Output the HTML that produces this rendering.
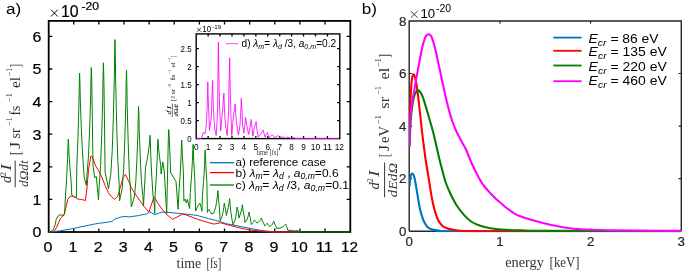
<!DOCTYPE html>
<html><head><meta charset="utf-8"><style>
html,body{margin:0;padding:0;background:#fff;overflow:hidden}
svg{display:block}
text{filter:grayscale(1)}
.s text{stroke:#000;stroke-width:0.22px}
.s2 text{stroke:#262626;stroke-width:0.2px}
</style></head><body>
<svg width="685" height="271" viewBox="0 0 685 271">
<rect width="685" height="271" fill="#fff"/>
<defs><clipPath id="ca"><rect x="48.6" y="20.6" width="301.6" height="212.4"/></clipPath><clipPath id="ci"><rect x="196.2" y="34" width="143.2" height="105.4"/></clipPath><clipPath id="cb"><rect x="409.2" y="15" width="272.2" height="217.2"/></clipPath></defs>
<text x="6.0" y="13.6" font-size="15.5" textLength="15.2" lengthAdjust="spacingAndGlyphs" font-family="'Liberation Sans', sans-serif">a)</text>
<path d="M51.00,9.70L57.80,16.50M57.80,9.70L51.00,16.50" stroke="#000" stroke-width="0.95" fill="none"/>
<g fill="#000" class="s">
<text x="61.0" y="17.2" font-size="15.6" textLength="17.6" lengthAdjust="spacingAndGlyphs" font-family="'Liberation Sans', sans-serif">10</text>
<text x="81.4" y="9.8" font-size="11.2" textLength="17.6" lengthAdjust="spacingAndGlyphs" font-family="'Liberation Sans', sans-serif">-20</text>
<text x="41.4" y="237.30" font-size="15.2" text-anchor="end" textLength="8.9" lengthAdjust="spacingAndGlyphs" font-family="'Liberation Sans', sans-serif">0</text>
<text x="41.4" y="204.70" font-size="15.2" text-anchor="end" textLength="8.9" lengthAdjust="spacingAndGlyphs" font-family="'Liberation Sans', sans-serif">1</text>
<text x="41.4" y="172.10" font-size="15.2" text-anchor="end" textLength="8.9" lengthAdjust="spacingAndGlyphs" font-family="'Liberation Sans', sans-serif">2</text>
<text x="41.4" y="139.50" font-size="15.2" text-anchor="end" textLength="8.9" lengthAdjust="spacingAndGlyphs" font-family="'Liberation Sans', sans-serif">3</text>
<text x="41.4" y="106.90" font-size="15.2" text-anchor="end" textLength="8.9" lengthAdjust="spacingAndGlyphs" font-family="'Liberation Sans', sans-serif">4</text>
<text x="41.4" y="74.30" font-size="15.2" text-anchor="end" textLength="8.9" lengthAdjust="spacingAndGlyphs" font-family="'Liberation Sans', sans-serif">5</text>
<text x="41.4" y="41.70" font-size="15.2" text-anchor="end" textLength="8.9" lengthAdjust="spacingAndGlyphs" font-family="'Liberation Sans', sans-serif">6</text>
<text x="47.90" y="252.1" font-size="15.2" text-anchor="middle" textLength="8.9" lengthAdjust="spacingAndGlyphs" font-family="'Liberation Sans', sans-serif">0</text>
<text x="73.03" y="252.1" font-size="15.2" text-anchor="middle" textLength="8.9" lengthAdjust="spacingAndGlyphs" font-family="'Liberation Sans', sans-serif">1</text>
<text x="98.16" y="252.1" font-size="15.2" text-anchor="middle" textLength="8.9" lengthAdjust="spacingAndGlyphs" font-family="'Liberation Sans', sans-serif">2</text>
<text x="123.29" y="252.1" font-size="15.2" text-anchor="middle" textLength="8.9" lengthAdjust="spacingAndGlyphs" font-family="'Liberation Sans', sans-serif">3</text>
<text x="148.42" y="252.1" font-size="15.2" text-anchor="middle" textLength="8.9" lengthAdjust="spacingAndGlyphs" font-family="'Liberation Sans', sans-serif">4</text>
<text x="173.55" y="252.1" font-size="15.2" text-anchor="middle" textLength="8.9" lengthAdjust="spacingAndGlyphs" font-family="'Liberation Sans', sans-serif">5</text>
<text x="198.68" y="252.1" font-size="15.2" text-anchor="middle" textLength="8.9" lengthAdjust="spacingAndGlyphs" font-family="'Liberation Sans', sans-serif">6</text>
<text x="223.81" y="252.1" font-size="15.2" text-anchor="middle" textLength="8.9" lengthAdjust="spacingAndGlyphs" font-family="'Liberation Sans', sans-serif">7</text>
<text x="248.94" y="252.1" font-size="15.2" text-anchor="middle" textLength="8.9" lengthAdjust="spacingAndGlyphs" font-family="'Liberation Sans', sans-serif">8</text>
<text x="274.07" y="252.1" font-size="15.2" text-anchor="middle" textLength="8.9" lengthAdjust="spacingAndGlyphs" font-family="'Liberation Sans', sans-serif">9</text>
<text x="299.20" y="252.1" font-size="15.2" text-anchor="middle" textLength="17.0" lengthAdjust="spacingAndGlyphs" font-family="'Liberation Sans', sans-serif">10</text>
<text x="324.33" y="252.1" font-size="15.2" text-anchor="middle" textLength="17.0" lengthAdjust="spacingAndGlyphs" font-family="'Liberation Sans', sans-serif">11</text>
<text x="349.46" y="252.1" font-size="15.2" text-anchor="middle" textLength="17.0" lengthAdjust="spacingAndGlyphs" font-family="'Liberation Sans', sans-serif">12</text>
</g>
<rect x="48.7" y="20.9" width="301.60" height="211.10" fill="none" stroke="#000" stroke-width="1.8"/>
<path d="M73.73,232.00v-3.6M73.73,20.90v3.6M98.86,232.00v-3.6M98.86,20.90v3.6M123.99,232.00v-3.6M123.99,20.90v3.6M149.12,232.00v-3.6M149.12,20.90v3.6M174.25,232.00v-3.6M174.25,20.90v3.6M199.38,232.00v-3.6M199.38,20.90v3.6M224.51,232.00v-3.6M224.51,20.90v3.6M249.64,232.00v-3.6M249.64,20.90v3.6M274.77,232.00v-3.6M274.77,20.90v3.6M299.90,232.00v-3.6M299.90,20.90v3.6M325.03,232.00v-3.6M325.03,20.90v3.6M48.70,199.40h3.6M350.30,199.40h-3.6M48.70,166.80h3.6M350.30,166.80h-3.6M48.70,134.20h3.6M350.30,134.20h-3.6M48.70,101.60h3.6M350.30,101.60h-3.6M48.70,69.00h3.6M350.30,69.00h-3.6M48.70,36.40h3.6M350.30,36.40h-3.6" stroke="#000" stroke-width="1.3" fill="none"/>
<g clip-path="url(#ca)" fill="none" stroke-width="1.0" stroke-linejoin="round">
<polyline points="48.60,232.10 59.70,230.90 71.40,228.90 83.00,226.40 94.70,224.00 100.60,223.10 105.00,222.50 108.50,222.00 112.00,221.50 115.00,218.90 118.00,218.00 122.50,216.60 126.00,216.60 130.00,216.90 134.00,216.20 138.00,215.70 142.00,214.80 146.50,213.90 149.80,212.00 152.00,213.00 154.80,214.60 157.00,213.90 160.00,212.70 163.00,212.00 166.00,212.20 170.00,212.50 176.00,213.10 182.60,213.80 190.00,214.50 197.40,215.50 208.50,218.60 215.80,220.40 226.90,223.80 238.00,226.00 250.00,228.40 259.80,230.20 272.70,231.80 280.00,232.00 300.00,232.00" stroke="#0072bd"/>
<polyline points="48.60,232.00 52.50,231.80 55.00,230.00 57.30,226.00 59.10,221.40 60.80,217.80 62.60,216.50 64.40,213.50 66.00,207.00 67.80,199.50 70.50,196.00 74.00,196.50 77.50,199.00 80.80,199.30 83.50,200.00 85.30,200.50 86.80,190.00 88.50,170.00 90.80,156.00 92.50,157.00 95.20,165.00 98.50,170.50 101.80,177.00 105.10,185.50 108.50,193.00 111.80,197.00 114.90,199.40 117.60,196.60 120.40,187.00 123.10,177.50 125.50,174.50 128.70,181.40 131.40,188.00 135.30,194.00 140.00,200.80 143.80,206.20 148.80,212.00 151.30,205.00 153.80,197.20 156.00,200.00 158.20,203.80 162.00,209.00 167.10,214.90 172.60,219.30 178.00,216.50 183.00,213.80 190.00,216.40 197.40,219.20 204.80,221.60 214.00,224.10 220.50,222.80 230.60,225.60 241.70,228.40 250.00,229.90 260.00,231.00 269.00,231.80 275.00,232.00 300.00,232.00" stroke="#ff0000"/>
<polyline points="48.60,232.00 50.30,231.80 53.30,229.50 55.00,225.00 56.20,219.60 57.90,216.10 59.70,214.90 62.00,214.90 63.20,216.10 64.60,213.80 65.50,195.10 66.60,178.64 67.65,157.70 68.00,144.98 68.30,139.00 68.60,143.48 68.95,153.00 70.00,168.68 71.10,181.00 71.80,195.00 74.20,196.90 76.40,197.60 76.80,166.47 77.90,139.09 78.95,104.22 79.30,83.06 79.60,73.10 79.90,81.37 80.25,98.95 81.30,127.90 82.40,150.65 84.10,176.50 86.30,185.40 87.10,173.61 88.50,155.93 89.60,129.99 90.65,96.97 91.00,76.93 91.30,67.50 91.60,75.34 91.95,92.00 93.00,165.50 94.70,177.70 96.30,176.50 98.50,199.80 99.20,186.10 100.60,165.55 101.70,135.41 102.75,97.05 103.10,73.76 103.40,62.80 103.70,71.54 104.05,90.10 105.10,172.00 108.50,188.70 110.80,173.79 112.20,151.42 113.30,118.62 114.35,76.88 114.70,51.53 115.00,39.60 115.30,52.50 115.65,79.90 116.70,125.04 117.80,160.50 119.20,184.68 119.60,200.80 122.30,187.75 123.70,168.18 124.80,139.47 125.85,102.93 126.20,80.74 126.50,70.30 126.80,81.24 127.15,104.48 128.20,142.75 129.30,172.82 130.70,193.33 131.30,207.00 134.40,196.95 135.80,181.88 136.90,159.76 137.95,131.62 138.30,114.54 138.60,106.50 138.90,114.42 139.25,131.25 140.30,158.97 141.40,180.75 142.80,195.60 143.50,205.50 145.60,166.80 147.30,158.93 148.40,152.00 149.45,143.18 149.80,137.82 150.10,135.30 150.40,141.56 150.75,154.85 151.80,176.75 152.90,193.95 154.30,205.68 154.70,213.50 155.10,194.93 156.20,178.58 157.25,157.77 157.60,145.14 157.90,139.20 158.20,141.98 158.55,147.90 159.60,157.64 160.70,165.30 161.10,174.00 162.80,162.00 164.30,171.60 166.70,213.50 168.05,150.57 168.40,136.31 168.70,129.60 169.00,133.06 169.35,140.40 170.70,172.80 176.00,181.50 178.10,209.30 178.90,191.98 180.00,176.73 181.05,157.32 181.40,145.54 181.70,140.00 182.00,144.88 182.35,155.25 183.40,172.33 183.90,201.00 185.30,199.00 186.30,203.00 187.40,199.50 189.60,208.50 190.30,192.47 191.40,178.37 192.45,160.43 192.80,149.53 193.10,144.40 193.40,149.73 193.75,161.05 194.80,179.70 195.60,211.00 197.70,206.50 198.44,204.85 199.28,203.88 199.56,203.28 199.80,203.00 200.04,203.66 200.32,205.07 201.16,207.40 201.90,211.30 202.40,195.98 203.50,182.49 204.55,165.32 204.90,154.90 205.20,150.00 205.50,154.99 205.85,165.60 206.90,183.07 207.40,212.40 207.81,210.94 208.54,210.08 208.79,209.55 209.00,209.30 209.21,209.68 209.46,210.48 210.19,211.79 210.96,212.82 211.50,214.00 214.00,212.80 214.54,210.58 215.66,207.25 216.54,202.37 217.38,196.15 217.66,192.38 217.90,190.60 218.14,193.02 218.42,198.15 219.26,206.61 220.20,220.80 220.94,219.03 222.06,216.38 222.94,212.48 223.78,207.53 224.06,204.52 224.30,203.10 224.54,204.09 224.82,206.20 225.66,209.67 226.40,215.50 227.36,211.28 228.24,207.56 229.08,202.82 229.36,199.95 229.60,198.60 229.84,200.73 230.12,205.25 230.96,212.70 231.84,218.55 233.20,225.20 233.74,223.38 234.86,220.65 235.74,216.65 236.58,211.55 236.86,208.46 237.10,207.00 237.34,207.89 237.62,209.78 238.46,212.88 238.80,218.10 240.16,214.78 241.04,211.85 241.88,208.12 242.16,205.86 242.40,204.80 242.64,206.22 242.92,209.25 243.76,214.23 244.64,218.15 245.00,222.60 245.74,221.54 246.86,219.95 247.74,217.62 248.58,214.65 248.86,212.85 249.10,212.00 249.34,213.01 249.62,215.15 250.46,218.68 251.30,224.60 252.36,223.43 253.24,222.39 254.08,221.07 254.36,220.28 254.60,219.90 254.84,220.16 255.12,220.72 255.96,221.65 257.00,223.20 257.62,222.67 258.88,221.88 259.87,220.71 260.81,219.22 261.13,218.32 261.40,217.90 261.67,218.54 261.98,219.90 262.93,222.14 263.92,223.90 264.80,225.90 265.62,225.18 266.28,224.54 266.91,223.72 267.12,223.23 267.30,223.00 267.48,223.29 267.69,223.90 268.32,224.91 268.98,225.70 270.00,226.60 270.44,226.06 271.56,225.25 272.44,224.06 273.28,222.55 273.56,221.63 273.80,221.20 274.04,221.78 274.32,223.00 275.16,225.02 276.04,226.60 276.50,228.40 280.00,228.20 283.00,226.80 283.84,226.08 284.61,225.44 285.35,224.62 285.59,224.13 285.80,223.90 286.01,224.44 286.25,225.57 286.99,227.45 288.00,230.60 291.00,230.20 294.00,231.00 297.00,230.60 300.00,231.60 303.00,232.00 350.20,232.00" stroke="#008000"/>
</g>
<g stroke-width="1.3">
<line x1="209.9" y1="162.7" x2="234" y2="162.7" stroke="#0072bd"/>
<line x1="209.9" y1="172.6" x2="234" y2="172.6" stroke="#ff0000"/>
<line x1="209.9" y1="185.0" x2="234" y2="185.0" stroke="#008000"/>
</g>
<g fill="#000">
<text x="235.6" y="166.1" font-size="11.4" textLength="90.5" lengthAdjust="spacingAndGlyphs" font-family="'Liberation Sans', sans-serif">a) reference case</text>
<text x="235.6" y="176.7" font-size="11.4" font-family="'Liberation Sans', sans-serif" textLength="103" lengthAdjust="spacingAndGlyphs">b) <tspan font-style="italic">λ</tspan><tspan font-size="8.2" font-style="italic" dy="2">m</tspan><tspan dy="-2">= </tspan><tspan font-style="italic">λ</tspan><tspan font-size="8.2" font-style="italic" dy="2">d</tspan><tspan dy="-2"> , </tspan><tspan font-style="italic">a</tspan><tspan font-size="8.2" font-style="italic" dy="2">0,m</tspan><tspan dy="-2">=0.6</tspan></text>
<text x="235.6" y="188.7" font-size="11.4" font-family="'Liberation Sans', sans-serif" textLength="113.5" lengthAdjust="spacingAndGlyphs">c) <tspan font-style="italic">λ</tspan><tspan font-size="8.2" font-style="italic" dy="2">m</tspan><tspan dy="-2">= </tspan><tspan font-style="italic">λ</tspan><tspan font-size="8.2" font-style="italic" dy="2">d</tspan><tspan dy="-2"> /3, </tspan><tspan font-style="italic">a</tspan><tspan font-size="8.2" font-style="italic" dy="2">0,m</tspan><tspan dy="-2">=0.1</tspan></text>
</g>
<rect x="196.2" y="33.9" width="143.60" height="104.70" fill="#fff"/>
<rect x="196.2" y="33.9" width="143.60" height="104.70" fill="none" stroke="#000" stroke-width="1.4"/>
<path d="M208.13,138.60v-2.6M208.13,33.90v2.6M220.06,138.60v-2.6M220.06,33.90v2.6M231.99,138.60v-2.6M231.99,33.90v2.6M243.92,138.60v-2.6M243.92,33.90v2.6M255.85,138.60v-2.6M255.85,33.90v2.6M267.78,138.60v-2.6M267.78,33.90v2.6M279.71,138.60v-2.6M279.71,33.90v2.6M291.64,138.60v-2.6M291.64,33.90v2.6M303.57,138.60v-2.6M303.57,33.90v2.6M315.50,138.60v-2.6M315.50,33.90v2.6M327.43,138.60v-2.6M327.43,33.90v2.6M196.20,120.60h2.6M339.80,120.60h-2.6M196.20,102.60h2.6M339.80,102.60h-2.6M196.20,84.60h2.6M339.80,84.60h-2.6M196.20,66.60h2.6M339.80,66.60h-2.6M196.20,48.60h2.6M339.80,48.60h-2.6" stroke="#000" stroke-width="1.3" fill="none"/>
<g clip-path="url(#ci)" fill="none" stroke-width="1.0" stroke-linejoin="round">
<polyline points="196.20,138.60 201.50,138.60 203.20,132.40 204.90,133.80 205.91,128.62 206.54,120.85 207.04,109.45 207.51,94.95 207.67,86.14 207.80,82.00 207.94,85.88 208.09,94.12 208.56,107.70 209.06,118.38 209.40,130.50 211.40,116.60 211.84,99.54 212.31,89.38 212.47,83.20 212.60,80.30 212.73,84.12 212.89,92.22 213.36,105.58 213.86,116.08 214.60,128.00 216.20,135.50 217.60,112.00 218.11,59.50 218.27,47.60 218.40,42.00 218.53,49.12 218.69,64.25 219.16,89.17 219.66,108.75 220.29,122.10 220.70,131.00 222.60,109.00 222.92,105.00 223.31,101.48 223.67,97.00 223.80,94.28 223.90,93.00 224.00,95.56 224.13,101.00 224.50,109.96 224.88,117.00 225.50,125.00 227.20,135.50 228.60,112.00 228.94,86.53 229.41,71.35 229.56,62.14 229.70,57.80 229.83,64.02 229.99,77.22 230.46,98.98 230.96,116.08 231.80,135.50 233.50,114.90 233.98,112.18 234.42,109.78 234.84,106.72 234.98,104.87 235.10,104.00 235.22,105.40 235.36,108.38 235.78,113.28 236.30,121.50 238.40,134.80 239.20,131.15 239.90,125.68 240.45,117.65 240.98,107.42 241.15,101.22 241.30,98.30 241.45,100.43 241.62,104.95 242.15,112.40 242.60,124.90 243.90,133.10 244.75,125.72 245.28,121.33 245.45,118.66 245.60,117.40 245.75,118.00 245.92,119.28 246.70,124.90 248.60,134.50 249.42,130.72 250.08,127.40 250.71,123.18 250.92,120.61 251.10,119.40 251.28,120.74 251.49,123.60 252.12,128.30 252.80,136.20 254.40,127.70 255.25,124.83 255.78,123.12 255.95,122.09 256.10,121.60 256.25,122.83 256.43,125.45 256.95,129.76 257.50,133.15 258.30,137.00 261.10,133.80 261.42,132.83 262.08,131.97 262.71,130.88 262.92,130.21 263.10,129.90 263.28,130.48 263.49,131.70 264.12,133.72 265.00,137.10 266.01,135.03 266.75,133.80 266.99,133.05 267.20,132.70 267.41,133.09 267.65,133.92 268.39,135.30 268.80,137.60 270.60,136.20 271.51,135.59 272.25,135.22 272.49,135.00 272.70,134.90 272.91,135.12 273.15,135.60 273.89,136.38 274.40,137.70 276.20,136.80 277.01,136.19 277.75,135.82 277.99,135.60 278.20,135.50 278.41,135.69 278.65,136.10 279.39,136.77 279.90,137.90 280.96,137.57 281.84,137.29 282.68,136.93 282.96,136.70 283.20,136.60 283.44,136.73 283.72,137.00 284.56,137.45 285.40,138.20 286.34,137.54 287.18,137.15 287.46,136.91 287.70,136.80 287.94,136.92 288.22,137.18 289.06,137.59 290.00,138.30 293.00,137.80 296.00,138.40 300.00,138.60 339.40,138.60" stroke="#ff00ff" stroke-width="0.85"/>
</g>
<g fill="#000">
<text x="191.6" y="141.60" font-size="8.2" text-anchor="end" textLength="4.4" lengthAdjust="spacingAndGlyphs" font-family="'Liberation Sans', sans-serif">0</text>
<text x="191.6" y="123.60" font-size="8.2" text-anchor="end" textLength="11" lengthAdjust="spacingAndGlyphs" font-family="'Liberation Sans', sans-serif">0.5</text>
<text x="191.6" y="105.60" font-size="8.2" text-anchor="end" textLength="4.4" lengthAdjust="spacingAndGlyphs" font-family="'Liberation Sans', sans-serif">1</text>
<text x="191.6" y="87.60" font-size="8.2" text-anchor="end" textLength="11" lengthAdjust="spacingAndGlyphs" font-family="'Liberation Sans', sans-serif">1.5</text>
<text x="191.6" y="69.60" font-size="8.2" text-anchor="end" textLength="4.4" lengthAdjust="spacingAndGlyphs" font-family="'Liberation Sans', sans-serif">2</text>
<text x="191.6" y="51.60" font-size="8.2" text-anchor="end" textLength="11" lengthAdjust="spacingAndGlyphs" font-family="'Liberation Sans', sans-serif">2.5</text>
<text x="196.20" y="149.6" font-size="8.2" text-anchor="middle" textLength="4.6" lengthAdjust="spacingAndGlyphs" font-family="'Liberation Sans', sans-serif">0</text>
<text x="208.13" y="149.6" font-size="8.2" text-anchor="middle" textLength="4.6" lengthAdjust="spacingAndGlyphs" font-family="'Liberation Sans', sans-serif">1</text>
<text x="220.06" y="149.6" font-size="8.2" text-anchor="middle" textLength="4.6" lengthAdjust="spacingAndGlyphs" font-family="'Liberation Sans', sans-serif">2</text>
<text x="231.99" y="149.6" font-size="8.2" text-anchor="middle" textLength="4.6" lengthAdjust="spacingAndGlyphs" font-family="'Liberation Sans', sans-serif">3</text>
<text x="243.92" y="149.6" font-size="8.2" text-anchor="middle" textLength="4.6" lengthAdjust="spacingAndGlyphs" font-family="'Liberation Sans', sans-serif">4</text>
<text x="255.85" y="149.6" font-size="8.2" text-anchor="middle" textLength="4.6" lengthAdjust="spacingAndGlyphs" font-family="'Liberation Sans', sans-serif">5</text>
<text x="267.78" y="149.6" font-size="8.2" text-anchor="middle" textLength="4.6" lengthAdjust="spacingAndGlyphs" font-family="'Liberation Sans', sans-serif">6</text>
<text x="279.71" y="149.6" font-size="8.2" text-anchor="middle" textLength="4.6" lengthAdjust="spacingAndGlyphs" font-family="'Liberation Sans', sans-serif">7</text>
<text x="291.64" y="149.6" font-size="8.2" text-anchor="middle" textLength="4.6" lengthAdjust="spacingAndGlyphs" font-family="'Liberation Sans', sans-serif">8</text>
<text x="303.57" y="149.6" font-size="8.2" text-anchor="middle" textLength="4.6" lengthAdjust="spacingAndGlyphs" font-family="'Liberation Sans', sans-serif">9</text>
<text x="315.50" y="149.6" font-size="8.2" text-anchor="middle" textLength="9.4" lengthAdjust="spacingAndGlyphs" font-family="'Liberation Sans', sans-serif">10</text>
<text x="327.43" y="149.6" font-size="8.2" text-anchor="middle" textLength="9.4" lengthAdjust="spacingAndGlyphs" font-family="'Liberation Sans', sans-serif">11</text>
<text x="339.36" y="149.6" font-size="8.2" text-anchor="middle" textLength="9.4" lengthAdjust="spacingAndGlyphs" font-family="'Liberation Sans', sans-serif">12</text>
<path d="M197.00,27.80L201.00,31.80M201.00,27.80L197.00,31.80" stroke="#000" stroke-width="0.7" fill="none"/>
<text x="202.2" y="32.3" font-size="8.4" textLength="8.9" lengthAdjust="spacingAndGlyphs" font-family="'Liberation Sans', sans-serif">10</text>
<text x="212.2" y="29.0" font-size="6.2" textLength="8.9" lengthAdjust="spacingAndGlyphs" font-family="'Liberation Sans', sans-serif">-19</text>
</g>
<line x1="226" y1="43.7" x2="238" y2="43.7" stroke="#ff00ff" stroke-width="0.7"/>
<text x="241.6" y="47.1" font-size="10" font-family="'Liberation Sans', sans-serif" textLength="94.5" lengthAdjust="spacingAndGlyphs">d) <tspan font-style="italic">λ</tspan><tspan font-size="7" font-style="italic" dy="1.6">m</tspan><tspan dy="-1.6">= </tspan><tspan font-style="italic">λ</tspan><tspan font-size="7" font-style="italic" dy="1.6">d</tspan><tspan dy="-1.6"> /3, </tspan><tspan font-style="italic">a</tspan><tspan font-size="7" font-style="italic" dy="1.6">0,m</tspan><tspan dy="-1.6">=0.2</tspan></text>
<g fill="#333"><text x="256.5" y="155.2" font-size="7.3" textLength="22.0" lengthAdjust="spacingAndGlyphs" font-family="'Liberation Serif', serif">time [fs]</text></g>
<g transform="translate(174.5,101.5) rotate(-90)" font-family="'Liberation Serif', serif">
<text x="0.3" y="0" font-size="6.5" textLength="5.20" lengthAdjust="spacingAndGlyphs">[J</text>
<text x="7.5" y="0" font-size="6.5" textLength="5.00" lengthAdjust="spacingAndGlyphs">sr</text>
<text x="13.5" y="-3.8" font-size="4.5" textLength="4.00" lengthAdjust="spacingAndGlyphs">−1</text>
<text x="21.3" y="0" font-size="6.5" textLength="5.40" lengthAdjust="spacingAndGlyphs">fs</text>
<text x="28.0" y="-3.8" font-size="4.5" textLength="3.50" lengthAdjust="spacingAndGlyphs">−1</text>
<text x="34.5" y="0" font-size="6.5" textLength="4.60" lengthAdjust="spacingAndGlyphs">el</text>
<text x="40.0" y="-3.8" font-size="4.5" textLength="3.20" lengthAdjust="spacingAndGlyphs">−1</text>
<text x="44.3" y="0" font-size="6.5" textLength="1.30" lengthAdjust="spacingAndGlyphs">]</text>
</g>
<line x1="172.3" y1="103.6" x2="172.3" y2="116.9" stroke="#000" stroke-width="0.6"/>
<g transform="translate(172.2,110.2) rotate(-90)" font-family="'Liberation Serif', serif">
<text x="-4.4" y="-1.4" font-size="6.2" textLength="3.40" lengthAdjust="spacingAndGlyphs" font-style="italic">d</text>
<text x="-1.2" y="-4.4" font-size="4" textLength="1.80" lengthAdjust="spacingAndGlyphs">2</text>
<text x="1.0" y="-1.4" font-size="6.2" textLength="3.20" lengthAdjust="spacingAndGlyphs" font-style="italic">I</text>
<text x="-6.3" y="5.9" font-size="6.2" textLength="12.60" lengthAdjust="spacingAndGlyphs" font-style="italic">dΩdt</text>
</g>
<g fill="#333">
<g transform="translate(19.6,155.5) rotate(-90)" font-family="'Liberation Serif', serif">
<text x="0.3" y="0" font-size="14" textLength="4.30" lengthAdjust="spacingAndGlyphs">[</text>
<text x="6.6" y="0" font-size="14" textLength="7.30" lengthAdjust="spacingAndGlyphs">J</text>
<text x="17.0" y="0" font-size="14" textLength="10.20" lengthAdjust="spacingAndGlyphs">sr</text>
<text x="29.8" y="-7.2" font-size="9" textLength="8.20" lengthAdjust="spacingAndGlyphs">−1</text>
<text x="40.0" y="0" font-size="14" textLength="10.00" lengthAdjust="spacingAndGlyphs">fs</text>
<text x="53.6" y="-7.2" font-size="9" textLength="8.60" lengthAdjust="spacingAndGlyphs">−1</text>
<text x="67.4" y="0" font-size="14" textLength="11.20" lengthAdjust="spacingAndGlyphs">el</text>
<text x="79.4" y="-7.2" font-size="9" textLength="8.00" lengthAdjust="spacingAndGlyphs">−1</text>
<text x="87.8" y="0" font-size="14" textLength="4.00" lengthAdjust="spacingAndGlyphs">]</text>
</g>
<line x1="15.2" y1="160.6" x2="15.2" y2="187.3" stroke="#000" stroke-width="0.8"/>
<g transform="translate(15.2,174.0) rotate(-90)" font-family="'Liberation Serif', serif">
<text x="-8.9" y="-4.0" font-size="13.6" textLength="7.10" lengthAdjust="spacingAndGlyphs" font-style="italic">d</text>
<text x="-2.0" y="-9.4" font-size="7.5" textLength="4.00" lengthAdjust="spacingAndGlyphs">2</text>
<text x="3.4" y="-4.0" font-size="14" textLength="6.20" lengthAdjust="spacingAndGlyphs" font-style="italic">I</text>
<text x="-13.0" y="12.6" font-size="13.5" textLength="26.60" lengthAdjust="spacingAndGlyphs" font-style="italic">dΩdt</text>
</g>
</g>
<g fill="#333"><text x="176.6" y="267.6" font-size="14" textLength="24.6" lengthAdjust="spacingAndGlyphs" font-family="'Liberation Serif', serif">time</text><text x="206.4" y="267.6" font-size="14" textLength="14.8" lengthAdjust="spacingAndGlyphs" font-family="'Liberation Serif', serif">[fs]</text></g>
<g fill="#000">
<text x="361.8" y="13.6" font-size="15.5" textLength="15.2" lengthAdjust="spacingAndGlyphs" font-family="'Liberation Sans', sans-serif">b)</text>
<path d="M410.90,11.10L417.50,17.70M417.50,11.10L410.90,17.70" stroke="#262626" stroke-width="0.9" fill="none"/>
<text x="420.4" y="17.7" font-size="13.4" textLength="14.6" lengthAdjust="spacingAndGlyphs" font-family="'Liberation Sans', sans-serif">10</text>
<text x="435.9" y="12.3" font-size="10.6" textLength="15.2" lengthAdjust="spacingAndGlyphs" font-family="'Liberation Sans', sans-serif">-20</text>
</g>
<g fill="#262626" class="s2">
<text x="406.4" y="235.70" font-size="13" text-anchor="end" textLength="7.4" lengthAdjust="spacingAndGlyphs" font-family="'Liberation Sans', sans-serif">0</text>
<text x="406.4" y="183.15" font-size="13" text-anchor="end" textLength="7.4" lengthAdjust="spacingAndGlyphs" font-family="'Liberation Sans', sans-serif">2</text>
<text x="406.4" y="130.60" font-size="13" text-anchor="end" textLength="7.4" lengthAdjust="spacingAndGlyphs" font-family="'Liberation Sans', sans-serif">4</text>
<text x="406.4" y="78.05" font-size="13" text-anchor="end" textLength="7.4" lengthAdjust="spacingAndGlyphs" font-family="'Liberation Sans', sans-serif">6</text>
<text x="406.4" y="25.50" font-size="13" text-anchor="end" textLength="7.4" lengthAdjust="spacingAndGlyphs" font-family="'Liberation Sans', sans-serif">8</text>
<text x="409.20" y="245.8" font-size="13" text-anchor="middle" textLength="7.4" lengthAdjust="spacingAndGlyphs" font-family="'Liberation Sans', sans-serif">0</text>
<text x="499.90" y="245.8" font-size="13" text-anchor="middle" textLength="7.4" lengthAdjust="spacingAndGlyphs" font-family="'Liberation Sans', sans-serif">1</text>
<text x="590.60" y="245.8" font-size="13" text-anchor="middle" textLength="7.4" lengthAdjust="spacingAndGlyphs" font-family="'Liberation Sans', sans-serif">2</text>
<text x="681.30" y="245.8" font-size="13" text-anchor="middle" textLength="7.4" lengthAdjust="spacingAndGlyphs" font-family="'Liberation Sans', sans-serif">3</text>
</g>
<path d="M409.2,231.2V21.0H681.3V231.2" fill="none" stroke="#262626" stroke-width="1.4"/>
<path d="M409.2,231.2H680.3" fill="none" stroke="#262626" stroke-width="1.4"/>
<path d="M499.90,231.20v-2.8M499.90,21.00v2.8M590.60,231.20v-2.8M590.60,21.00v2.8M409.20,178.65h2.8M681.30,178.65h-2.8M409.20,126.10h2.8M681.30,126.10h-2.8M409.20,73.55h2.8M681.30,73.55h-2.8" stroke="#262626" stroke-width="1.1" fill="none"/>
<g clip-path="url(#cb)" fill="none" stroke-width="2.1" stroke-linejoin="round">
<path d="M409.60,186.50C409.67,185.42 409.80,181.83 410.00,180.00C410.20,178.17 410.45,176.58 410.80,175.50C411.15,174.42 411.68,173.65 412.10,173.50C412.52,173.35 412.90,173.88 413.30,174.60C413.70,175.32 414.02,175.73 414.50,177.80C414.98,179.87 415.58,183.43 416.20,187.00C416.82,190.57 417.58,195.62 418.20,199.20C418.82,202.78 419.28,205.70 419.90,208.50C420.52,211.30 421.17,213.70 421.90,216.00C422.63,218.30 423.28,220.38 424.30,222.30C425.32,224.22 426.58,226.28 428.00,227.50C429.42,228.72 430.78,229.05 432.80,229.60C434.82,230.15 435.57,230.53 440.10,230.80C444.63,231.07 419.80,231.13 460.00,231.20C500.20,231.27 644.42,231.20 681.30,231.20" stroke="#0072bd"/>
<path d="M409.60,118.00C409.70,116.33 410.00,112.00 410.20,108.00C410.40,104.00 410.58,98.17 410.80,94.00C411.02,89.83 411.23,85.93 411.50,83.00C411.77,80.07 412.07,77.85 412.40,76.40C412.73,74.95 413.13,74.40 413.50,74.30C413.87,74.20 414.20,74.68 414.60,75.80C415.00,76.92 415.37,78.05 415.90,81.00C416.43,83.95 417.18,88.78 417.80,93.50C418.42,98.22 418.93,103.25 419.60,109.30C420.27,115.35 421.10,123.68 421.80,129.80C422.50,135.92 423.15,140.97 423.80,146.00C424.45,151.03 425.03,155.50 425.70,160.00C426.37,164.50 427.15,169.00 427.80,173.00C428.45,177.00 428.97,180.08 429.60,184.00C430.23,187.92 430.83,192.42 431.60,196.50C432.37,200.58 433.17,204.67 434.20,208.50C435.23,212.33 436.53,216.70 437.80,219.50C439.07,222.30 440.40,223.88 441.80,225.30C443.20,226.72 444.08,227.22 446.20,228.00C448.32,228.78 451.27,229.50 454.50,230.00C457.73,230.50 458.02,230.80 465.60,231.00C473.18,231.20 464.05,231.17 500.00,231.20C535.95,231.23 651.08,231.20 681.30,231.20" stroke="#ff0000"/>
<path d="M409.60,146.50C409.70,143.75 409.97,134.92 410.20,130.00C410.43,125.08 410.67,120.92 411.00,117.00C411.33,113.08 411.77,109.58 412.20,106.50C412.63,103.42 413.08,100.70 413.60,98.50C414.12,96.30 414.58,94.65 415.30,93.30C416.02,91.95 417.03,90.55 417.90,90.40C418.77,90.25 419.65,91.20 420.50,92.40C421.35,93.60 421.93,94.63 423.00,97.60C424.07,100.57 425.60,105.83 426.90,110.20C428.20,114.57 429.70,119.92 430.80,123.80C431.90,127.68 432.55,129.72 433.50,133.50C434.45,137.28 435.50,142.17 436.50,146.50C437.50,150.83 438.50,155.42 439.50,159.50C440.50,163.58 441.47,167.17 442.50,171.00C443.53,174.83 444.32,178.58 445.70,182.50C447.08,186.42 449.02,190.75 450.80,194.50C452.58,198.25 454.25,201.65 456.40,205.00C458.55,208.35 461.25,211.85 463.70,214.60C466.15,217.35 468.33,219.63 471.10,221.50C473.87,223.37 477.08,224.68 480.30,225.80C483.52,226.92 487.02,227.58 490.40,228.20C493.78,228.82 495.52,229.13 500.60,229.50C505.68,229.87 511.00,230.17 520.90,230.40C530.80,230.63 533.27,230.77 560.00,230.90C586.73,231.03 661.08,231.15 681.30,231.20" stroke="#008000"/>
<path d="M409.60,146.50C409.63,143.42 409.68,132.75 409.80,128.00C409.92,123.25 410.08,121.00 410.30,118.00C410.52,115.00 410.72,113.17 411.10,110.00C411.48,106.83 412.07,102.25 412.60,99.00C413.13,95.75 413.75,93.58 414.30,90.50C414.85,87.42 415.33,83.73 415.90,80.50C416.47,77.27 417.13,74.17 417.70,71.10C418.27,68.03 418.77,64.95 419.30,62.10C419.83,59.25 420.35,56.70 420.90,54.00C421.45,51.30 421.95,48.47 422.60,45.90C423.25,43.33 424.13,40.37 424.80,38.60C425.47,36.83 425.97,36.03 426.60,35.30C427.23,34.57 427.97,34.23 428.60,34.20C429.23,34.17 429.83,34.47 430.40,35.10C430.97,35.73 431.40,36.47 432.00,38.00C432.60,39.53 433.30,41.77 434.00,44.30C434.70,46.83 435.52,50.23 436.20,53.20C436.88,56.17 437.50,59.33 438.10,62.10C438.70,64.87 439.18,66.93 439.80,69.80C440.42,72.67 441.20,76.52 441.80,79.30C442.40,82.08 442.73,83.47 443.40,86.50C444.07,89.53 444.98,94.00 445.80,97.50C446.62,101.00 447.48,104.38 448.30,107.50C449.12,110.62 450.02,113.87 450.70,116.20C451.38,118.53 451.60,119.28 452.40,121.50C453.20,123.72 454.47,127.12 455.50,129.50C456.53,131.88 457.47,133.58 458.60,135.80C459.73,138.02 461.03,140.43 462.30,142.80C463.57,145.17 464.57,146.42 466.20,150.00C467.83,153.58 469.88,159.47 472.10,164.30C474.32,169.13 477.52,175.38 479.50,179.00C481.48,182.62 482.18,183.63 484.00,186.00C485.82,188.37 488.20,190.87 490.40,193.20C492.60,195.53 495.50,198.40 497.20,200.00C498.90,201.60 499.30,201.67 500.60,202.80C501.90,203.93 503.32,205.43 505.00,206.80C506.68,208.17 509.03,209.83 510.70,211.00C512.37,212.17 513.30,212.88 515.00,213.80C516.70,214.72 518.23,215.50 520.90,216.50C523.57,217.50 527.63,218.78 531.00,219.80C534.37,220.82 537.72,221.73 541.10,222.60C544.48,223.47 548.15,224.32 551.30,225.00C554.45,225.68 556.93,226.15 560.00,226.70C563.07,227.25 566.37,227.88 569.70,228.30C573.03,228.72 576.72,228.97 580.00,229.20C583.28,229.43 584.57,229.52 589.40,229.70C594.23,229.88 600.57,230.15 609.00,230.30C617.43,230.45 627.95,230.50 640.00,230.60C652.05,230.70 674.42,230.85 681.30,230.90" stroke="#ff00ff"/>
</g>
<g stroke-width="1.8">
<line x1="553.3" y1="37.6" x2="581.6" y2="37.6" stroke="#0072bd"/>
<line x1="553.3" y1="50.8" x2="581.6" y2="50.8" stroke="#ff0000"/>
<line x1="553.3" y1="65.5" x2="581.6" y2="65.5" stroke="#008000"/>
<line x1="553.3" y1="81.2" x2="581.6" y2="81.2" stroke="#ff00ff"/>
</g>
<g fill="#000">
<text x="588.6" y="42.8" font-size="12.8" font-family="'Liberation Sans', sans-serif" textLength="70" lengthAdjust="spacingAndGlyphs"><tspan font-style="italic">E</tspan><tspan font-size="9.6" font-style="italic" dy="3">cr</tspan><tspan dy="-3"> = 86 eV</tspan></text>
<text x="588.6" y="56.3" font-size="12.8" font-family="'Liberation Sans', sans-serif" textLength="78.2" lengthAdjust="spacingAndGlyphs"><tspan font-style="italic">E</tspan><tspan font-size="9.6" font-style="italic" dy="3">cr</tspan><tspan dy="-3"> = 135 eV</tspan></text>
<text x="588.6" y="70.7" font-size="12.8" font-family="'Liberation Sans', sans-serif" textLength="78.2" lengthAdjust="spacingAndGlyphs"><tspan font-style="italic">E</tspan><tspan font-size="9.6" font-style="italic" dy="3">cr</tspan><tspan dy="-3"> = 220 eV</tspan></text>
<text x="588.6" y="84.7" font-size="12.8" font-family="'Liberation Sans', sans-serif" textLength="78.2" lengthAdjust="spacingAndGlyphs"><tspan font-style="italic">E</tspan><tspan font-size="9.6" font-style="italic" dy="3">cr</tspan><tspan dy="-3"> = 460 eV</tspan></text>
</g>
<g fill="#333">
<g transform="translate(388.5,157.5) rotate(-90)" font-family="'Liberation Serif', serif">
<text x="0.2" y="0" font-size="14" textLength="4.00" lengthAdjust="spacingAndGlyphs">[</text>
<text x="6.6" y="0" font-size="14" textLength="6.00" lengthAdjust="spacingAndGlyphs">J</text>
<text x="14.6" y="0" font-size="14" textLength="17.00" lengthAdjust="spacingAndGlyphs">eV</text>
<text x="33.6" y="-7.2" font-size="9" textLength="8.60" lengthAdjust="spacingAndGlyphs">−1</text>
<text x="48.8" y="0" font-size="14" textLength="11.80" lengthAdjust="spacingAndGlyphs">sr</text>
<text x="62.4" y="-7.2" font-size="9" textLength="9.00" lengthAdjust="spacingAndGlyphs">−1</text>
<text x="78.0" y="0" font-size="14" textLength="11.80" lengthAdjust="spacingAndGlyphs">el</text>
<text x="90.6" y="-7.2" font-size="9" textLength="8.80" lengthAdjust="spacingAndGlyphs">−1</text>
<text x="99.8" y="0" font-size="14" textLength="3.80" lengthAdjust="spacingAndGlyphs">]</text>
</g>
<line x1="384.6" y1="162.5" x2="384.6" y2="197.3" stroke="#000" stroke-width="0.8"/>
<g transform="translate(384.6,180.0) rotate(-90)" font-family="'Liberation Serif', serif">
<text x="-9.4" y="-5.6" font-size="13.6" textLength="7.10" lengthAdjust="spacingAndGlyphs" font-style="italic">d</text>
<text x="-2.2" y="-11.4" font-size="7.5" textLength="4.00" lengthAdjust="spacingAndGlyphs">2</text>
<text x="3.0" y="-5.6" font-size="14" textLength="6.50" lengthAdjust="spacingAndGlyphs" font-style="italic">I</text>
<text x="-17.2" y="12.4" font-size="13.5" textLength="34.20" lengthAdjust="spacingAndGlyphs" font-style="italic">dEdΩ</text>
</g>
</g>
<g fill="#333"><text x="505.2" y="266.8" font-size="14" textLength="38.6" lengthAdjust="spacingAndGlyphs" font-family="'Liberation Serif', serif">energy</text><text x="549.6" y="266.8" font-size="14" textLength="30" lengthAdjust="spacingAndGlyphs" font-family="'Liberation Serif', serif">[keV]</text></g>
</svg>
</body></html>
